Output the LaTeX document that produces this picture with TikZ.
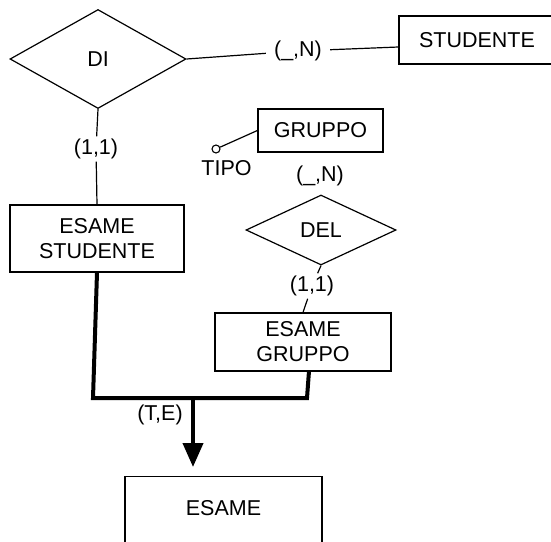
\documentclass[tikz,border=0pt]{standalone}
\usepackage{fontspec}
\setmainfont{Liberation Sans}
\usetikzlibrary{shapes.geometric,arrows.meta}
\begin{document}
\begin{tikzpicture}[x=1pt,y=-1pt,
  every node/.style={font=\fontsize{21.5}{25}\selectfont},
  ent/.style={draw, line width=1.2pt, rectangle, inner sep=0pt, align=center},
  rel/.style={draw, line width=1.2pt, diamond, inner sep=0pt},
  card/.style={inner xsep=8pt, inner ysep=2.5pt},
  conn/.style={line width=1.2pt},
  isa/.style={line width=4pt, line join=miter}]
\useasboundingbox (0,0) rectangle (551,541);
\clip (0,0) rectangle (551,541);

% relationships and entities
\node[rel, minimum width=176pt, minimum height=99pt] (DI) at (98,59) {DI};
\node[ent, minimum width=156pt, minimum height=48pt] (STU) at (477,40) {STUDENTE};
\node[ent, minimum width=125pt, minimum height=43pt] (GR) at (320.5,130.5) {GRUPPO};
\node[rel, minimum width=150pt, minimum height=70pt] (DEL) at (321,230) {DEL};
\node[ent, minimum width=174pt, minimum height=67pt] (ES) at (97,238.5) {ESAME\\STUDENTE};
\node[ent, minimum width=176pt, minimum height=58pt] (EG) at (303,342) {ESAME\\GRUPPO};
\node[ent, anchor=north, minimum width=197pt, text height=39pt, text depth=30pt] (ESA) at (223.5,476) {ESAME};

% cardinalities
\node[card] (cDI) at (298,51) {(\_,N)};
\node[card] (cDI2) at (96,149) {(1,1)};
\node[card] (cDEL) at (320,176) {(\_,N)};
\node[card] (cEG) at (312,286) {(1,1)};
\node (TE) at (160,415) {(T,E)};

% attribute
\node[circle, draw, line width=1.1pt, inner sep=0pt, minimum size=8pt] (tipo) at (216,149) {};
\node (tipoL) at (226.5,168.5) {TIPO};
\draw[conn] (tipo) -- (GR.west);

% connectors
\draw[conn] (DI.east) -- (cDI);
\draw[conn] (cDI) -- ([yshift=-7pt]STU.west);
\draw[conn] (DI.south) -- (cDI2) -- (ES.north);
\draw[conn] (DEL.south) -- (cEG) -- (EG.north);

% generalization
\coordinate (gl) at (93,398);
\coordinate (gr) at (307,398);
\coordinate (gm) at (193,398);
\coordinate (egb) at (309,371);
\draw[isa] (ES.south) -- (gl) -- (gr) -- (egb);
\draw[isa, -{Triangle[width=20pt,length=24pt]}, shorten >=9pt] (gm) -- (gm |- ESA.north);
\end{tikzpicture}
\end{document}
